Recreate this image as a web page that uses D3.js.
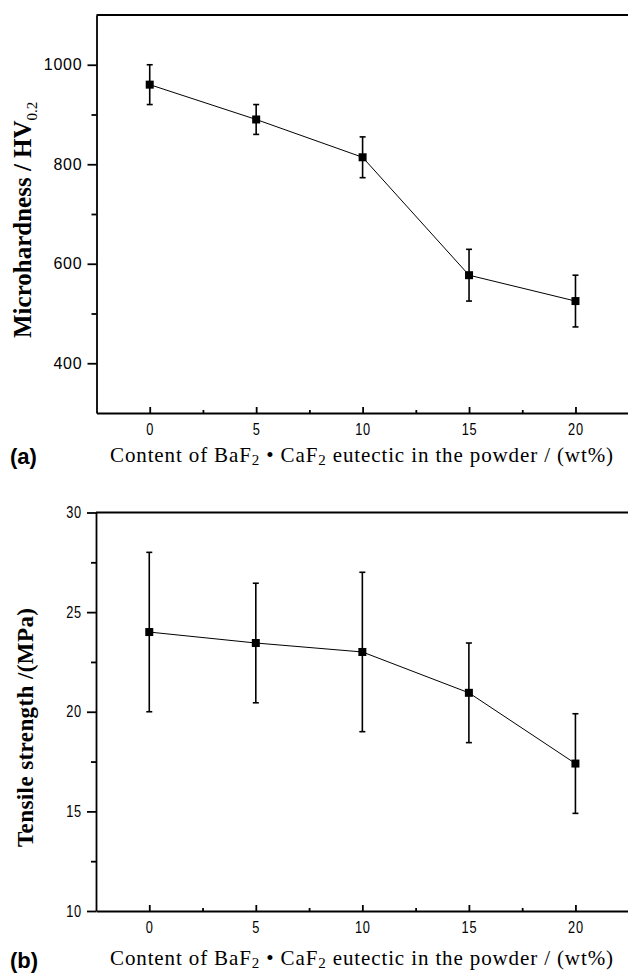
<!DOCTYPE html>
<html>
<head>
<meta charset="utf-8">
<script src="https://cdn.jsdelivr.net/npm/d3@7"></script>
<style>
  body { margin: 0; background: #fff; }
  svg { display: block; }
  .domain, .tick line { stroke: #000; stroke-width: 1.8; }
</style>
</head>
<body>
<svg id="svg1" width="628" height="975"></svg>
<script>
// wt% of BaF2.CaF2 eutectic in the powder
var contentPct = [0, 5, 10, 15, 20];

// (a) microhardness HV0.2
var hardness = [960, 890, 814, 577, 525];
var hardnessErr = [40, 30, 41, 52, 52];

// (b) tensile strength MPa
var tensile = [24.0, 23.45, 23.0, 20.95, 17.4];
var tensileErr = [4.0, 3.0, 4.0, 2.5, 2.5];

var xTicks = [0, 5, 10, 15, 20];
var xMinor = [2.5, 7.5, 12.5, 17.5];
var yTicksA = [400, 600, 800, 1000];
var yMinorA = [500, 700, 900];
var yTicksB = [10, 15, 20, 25, 30];
var yMinorB = [12.5, 17.5, 22.5, 27.5];

var sans = '"Liberation Sans", Arial, Helvetica, sans-serif';
var serif = '"Liberation Serif", "Times New Roman", serif';
var narrow = 0.8;  // squeeze for the condensed tick labels

var svg = d3.select('#svg1');

function drawPanel(opt) {
    var g = svg.append('g');

    var x = d3.scaleLinear().domain([-2.5, 22.5]).range([opt.left, 628.7]);
    var y = d3.scaleLinear().domain(opt.yDomain).range([opt.bottom, opt.top]);

    // y axis, ticks point out
    var ya = g.append('g')
        .attr('transform', 'translate(' + opt.left + ',0)')
        .call(d3.axisLeft(y).tickValues(opt.yTicks).tickSizeInner(9).tickSizeOuter(0).tickPadding(5).tickFormat(d3.format('d')));
    var yt = ya.selectAll('.tick text')
        .attr('font-family', sans).attr('font-size', 16).attr('fill', '#000');
    if (opt.condensedY) {
        yt.attr('x', -14 / narrow).attr('transform', 'scale(' + narrow + ',1)').attr('letter-spacing', 1);
    } else {
        yt.attr('letter-spacing', 0.8);
    }
    g.append('g')
        .attr('transform', 'translate(' + opt.left + ',0)')
        .call(d3.axisLeft(y).tickValues(opt.yMinor).tickSizeInner(5).tickSizeOuter(0).tickFormat(''))
        .select('.domain').remove();

    // x axis, ticks point in
    g.append('g')
        .attr('transform', 'translate(0,' + opt.bottom + ')')
        .call(d3.axisBottom(x).tickValues(xTicks).tickSizeInner(-6).tickSizeOuter(0).tickPadding(11))
        .selectAll('.tick text')
        .attr('font-family', sans).attr('font-size', 16).attr('fill', '#000')
        .attr('transform', 'scale(' + narrow + ',1)').attr('letter-spacing', 1);
    g.append('g')
        .attr('transform', 'translate(0,' + opt.bottom + ')')
        .call(d3.axisBottom(x).tickValues(xMinor).tickSizeInner(-3).tickSizeOuter(0).tickFormat(''))
        .select('.domain').remove();

    // top frame line
    g.append('line')
        .attr('x1', opt.left).attr('x2', 628)
        .attr('y1', opt.top).attr('y2', opt.top)
        .attr('stroke', '#000').attr('stroke-width', 1.8);

    var pts = contentPct.map(function(c, i) {
        return {x: c, y: opt.values[i], e: opt.errs[i]};
    });

    var line = d3.line().x(function(d){ return x(d.x); }).y(function(d){ return y(d.y); });
    g.append('path').datum(pts)
        .attr('d', line)
        .attr('fill', 'none').attr('stroke', '#000').attr('stroke-width', 1);

    // error bars
    var eb = g.selectAll('.eb').data(pts).enter().append('g').attr('class', 'eb')
        .attr('stroke', '#000').attr('stroke-width', 1.6);
    eb.append('line')
        .attr('x1', function(d){ return x(d.x); }).attr('x2', function(d){ return x(d.x); })
        .attr('y1', function(d){ return y(d.y + d.e); }).attr('y2', function(d){ return y(d.y - d.e); });
    eb.append('line')
        .attr('x1', function(d){ return x(d.x) - 3; }).attr('x2', function(d){ return x(d.x) + 3; })
        .attr('y1', function(d){ return y(d.y + d.e); }).attr('y2', function(d){ return y(d.y + d.e); });
    eb.append('line')
        .attr('x1', function(d){ return x(d.x) - 3; }).attr('x2', function(d){ return x(d.x) + 3; })
        .attr('y1', function(d){ return y(d.y - d.e); }).attr('y2', function(d){ return y(d.y - d.e); });

    // square markers
    g.selectAll('.pt').data(pts).enter().append('rect').attr('class', 'pt')
        .attr('x', function(d){ return x(d.x) - 4; })
        .attr('y', function(d){ return y(d.y) - 4; })
        .attr('width', 8).attr('height', 8)
        .attr('fill', '#000');

    // x label
    var xl = g.append('text')
        .attr('x', 110).attr('y', opt.xLabelY)
        .attr('font-family', serif)
        .attr('font-size', 21)
        .attr('textLength', 503).attr('lengthAdjust', 'spacing');
    xl.append('tspan').text('Content of BaF');
    xl.append('tspan').attr('font-size', 15).attr('dy', 3).text('2');
    xl.append('tspan').attr('dy', -3).text(' \u2022 CaF');
    xl.append('tspan').attr('font-size', 15).attr('dy', 3).text('2');
    xl.append('tspan').attr('dy', -3).text(' eutectic in the powder / (wt%)');

    // panel letter
    g.append('text')
        .attr('x', 10).attr('y', opt.letterY)
        .attr('font-family', sans)
        .attr('font-weight', 'bold').attr('font-size', 22)
        .text(opt.letter);

    return g;
}

var ga = drawPanel({
    left: 96.5, top: 15, bottom: 413,
    yDomain: [300, 1100], yTicks: yTicksA, yMinor: yMinorA,
    values: hardness, errs: hardnessErr,
    xLabelY: 462, letterY: 464, letter: '(a)'
});

var yla = ga.append('text')
    .attr('transform', 'translate(31,338) rotate(-90)')
    .attr('font-family', serif)
    .attr('font-weight', 'bold').attr('font-size', 25);
yla.append('tspan').text('Microhardness / HV');
yla.append('tspan').attr('font-size', 15).attr('font-weight', 'normal').attr('dy', 6).text('0.2');

var gb = drawPanel({
    left: 96, top: 512.5, bottom: 911,
    yDomain: [10, 30], yTicks: yTicksB, yMinor: yMinorB,
    values: tensile, errs: tensileErr,
    xLabelY: 965, letterY: 968, letter: '(b)', condensedY: true
});

gb.append('text')
    .attr('transform', 'translate(33,847) rotate(-90)')
    .attr('font-family', serif)
    .attr('font-weight', 'bold').attr('font-size', 23)
    .attr('textLength', 239).attr('lengthAdjust', 'spacing')
    .text('Tensile strength /(MPa)');
</script>
</body>
</html>
